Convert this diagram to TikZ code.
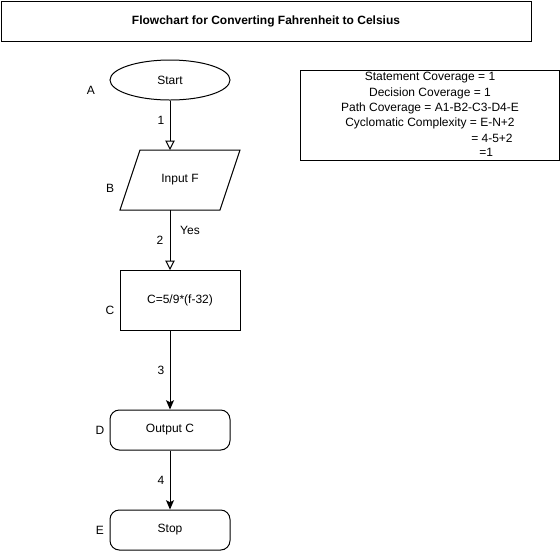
\documentclass[tikz,border=0pt]{standalone}
\usepackage{fontspec}
\setmainfont{Liberation Sans}
\usetikzlibrary{arrows.meta,shapes.geometric}
\begin{document}
\begin{tikzpicture}[x=0.75pt,y=-0.75pt,
  every node/.style={font=\fontsize{9pt}{11pt}\selectfont, inner sep=0pt},
  shp/.style={draw, line width=0.75pt},
  lbl/.style={},
  openarr/.style={draw, line width=0.75pt, -{Triangle[open,length=7pt,width=7pt]}},
  fillarr/.style={draw, line width=0.75pt, -{Stealth[length=7pt,width=6pt,inset=1.5pt]}}
]
\useasboundingbox (0,0) rectangle (560,551);
% title
\node[shp, minimum width=397.5pt, minimum height=30pt, anchor=north west, font=\fontsize{9pt}{11pt}\selectfont\bfseries] (title) at (0.5,0.5) {Flowchart for Converting Fahrenheit to Celsius};
% A
\node[shp, ellipse, minimum width=90pt, minimum height=30pt] (A) at (170,80) {Start};
\node (la) at (91,90) {A};
% B
\coordinate (Btop) at (170,150);
\coordinate (Bbot) at (170,210);
\draw[shp] (140,150) -- (240,150) -- (220,210) -- (120,210) -- cycle;
\node (B) at (180,180) {Input F};
\node (lb) at (110,188) {B};
% C
\node[shp, minimum width=90pt, minimum height=45pt] (C) at (180,300) {C=5/9*(f-32)};
\coordinate (Ctop) at (170,270);
\coordinate (Cbot) at (170,330);
\node (lc) at (110,310) {C};
% D
\node[shp, rounded corners=7pt, minimum width=90pt, minimum height=30pt] (D) at (170,430) {Output C};
\node (ld) at (100,430) {D};
% E
\node[shp, rounded corners=7pt, minimum width=90pt, minimum height=30pt] (E) at (170,530) {Stop};
\node (le) at (100,530) {E};
% edges
\draw[openarr] (A.south) -- (Btop);
\node (e1) at (161,120) {1};
\draw[openarr] (Bbot) -- (Ctop);
\node (e2) at (160,240) {2};
\node (yes) at (190,230) {Yes};
\draw[fillarr] (Cbot) -- (D.north);
\node (e3) at (161,370) {3};
\draw[fillarr] (D.south) -- (E.north);
\node (e4) at (161,480) {4};
% info box
\node[shp, minimum width=194.25pt, minimum height=67.5pt, anchor=north west] (info) at (300,70) {};
\node (i1) at (430,78) {Statement Coverage = 1};
\node (i2) at (430,93) {Decision Coverage = 1};
\node (i3) at (430,108) {Path Coverage = A1-B2-C3-D4-E};
\node (i4) at (430,123) {Cyclomatic Complexity = E-N+2};
\node[anchor=west] (i5) at (471,138) {= 4-5+2};
\node[anchor=west] (i6) at (479,152) {=1};
\end{tikzpicture}
\end{document}
